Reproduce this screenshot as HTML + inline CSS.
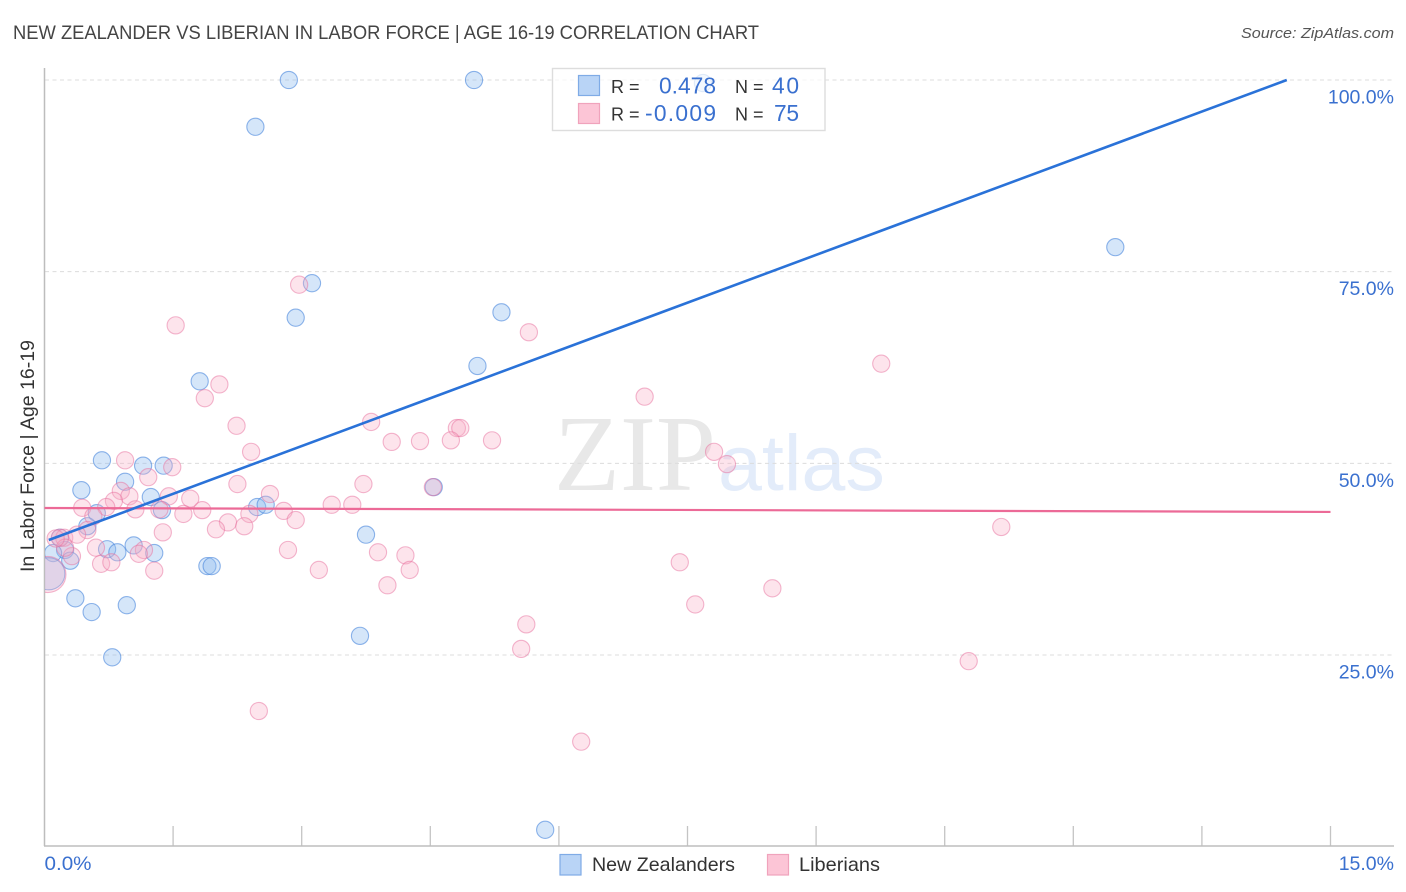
<!DOCTYPE html>
<html lang="en">
<head>
<meta charset="utf-8">
<title>New Zealander vs Liberian in Labor Force | Age 16-19 Correlation Chart</title>
<style>
  html, body { margin: 0; padding: 0; background: #fff; }
  svg { display: block; font-family: "Liberation Sans", sans-serif; }
</style>
</head>
<body>
<svg id="chart" xmlns="http://www.w3.org/2000/svg" width="1406" height="892" viewBox="0 0 1406 892">
  <defs>
    <clipPath id="plot-clip"><rect x="45" y="60" width="1355" height="786"></rect></clipPath>
  </defs>
  <rect x="0" y="0" width="1406" height="892" fill="#ffffff"></rect>

  <text x="13" y="39" font-size="19" fill="#444444" textLength="746" lengthAdjust="spacingAndGlyphs">NEW ZEALANDER VS LIBERIAN IN LABOR FORCE | AGE 16-19 CORRELATION CHART</text>
  <text x="1394" y="38" font-size="15" font-style="italic" fill="#555555" text-anchor="end" textLength="153" lengthAdjust="spacingAndGlyphs">Source: ZipAtlas.com</text>

  <g>
    <text x="554" y="490" font-family="'Liberation Serif', serif" font-size="108" fill="#e8e8e8">ZIP</text>
    <text x="718" y="490" font-size="79" fill="#e3ecfa">atlas</text>
  </g>

  <g id="grid"></g>
  <g id="x-ticks"></g>
  <line x1="44.5" y1="68" x2="44.5" y2="846" stroke="#bdbdbd" stroke-width="1.5"></line>
  <line x1="44" y1="846" x2="1394" y2="846" stroke="#bdbdbd" stroke-width="1.5"></line>

  <g id="marks-blue" clip-path="url(#plot-clip)"></g>
  <g id="marks-pink" clip-path="url(#plot-clip)"></g>
  <line id="trend-pink" stroke="#ec6a97" stroke-width="2.2"></line>
  <line id="trend-blue" stroke="#2a72d8" stroke-width="2.6"></line>

  <g id="y-labels"></g>
  <g id="x-labels"></g>

  <text transform="translate(34 456) rotate(-90)" font-size="19" fill="#333333" text-anchor="middle" textLength="232" lengthAdjust="spacingAndGlyphs">In Labor Force | Age 16-19</text>

  <g>
    <rect x="552.5" y="68.5" width="272.5" height="62" fill="#ffffff" fill-opacity="0.72" stroke="#dddddd" stroke-width="1.4"></rect>
    <rect x="578.5" y="75.5" width="21" height="20" fill="#b9d4f6" stroke="#7fabe6" stroke-width="1.2"></rect>
    <rect x="578.5" y="103.5" width="21" height="20" fill="#fcc5d6" stroke="#f0a3bc" stroke-width="1.2"></rect>
    <text x="611" y="93" font-size="18" fill="#333333">R =</text>
    <text x="659" y="93.500" font-size="22.800" fill="#3a70cf" textLength="57" lengthAdjust="spacing">0.478</text>
    <text x="735" y="93" font-size="18" fill="#333333">N =</text>
    <text x="772" y="93.500" font-size="22.800" fill="#3a70cf" textLength="27" lengthAdjust="spacing">40</text>
    <text x="611" y="120.500" font-size="18" fill="#333333">R =</text>
    <text x="645" y="121" font-size="22.800" fill="#3a70cf" textLength="71" lengthAdjust="spacing">-0.009</text>
    <text x="735" y="120.500" font-size="18" fill="#333333">N =</text>
    <text x="774" y="121" font-size="22.800" fill="#3a70cf" textLength="25" lengthAdjust="spacing">75</text>
  </g>

  <g>
    <g>
      <rect x="560" y="854.500" width="21" height="20.500" fill="#b9d4f6" stroke="#7fabe6" stroke-width="1.2"></rect>
      <text x="592" y="871" font-size="19.500" fill="#333333" textLength="143" lengthAdjust="spacingAndGlyphs">New Zealanders</text>
    </g>
    <g>
      <rect x="767.500" y="854.500" width="21" height="20.500" fill="#fcc5d6" stroke="#f0a3bc" stroke-width="1.2"></rect>
      <text x="799" y="871" font-size="19.500" fill="#333333" textLength="81" lengthAdjust="spacingAndGlyphs">Liberians</text>
    </g>
  </g>
</svg>

<script>
// --- Chart data (percent values) ---
const yTickValues = [100, 75, 50, 25];
const yTickLabels = ["100.0%", "75.0%", "50.0%", "25.0%"];
const xTickValues = [0, 1.5, 3, 4.5, 6, 7.5, 9, 10.5, 12, 13.5, 15];
const xEndLabels = ["0.0%", "15.0%"];

const blueX = [2.85, 5.01, 7.68, 2.46, 12.49, 3.12, 2.93, 5.33, 5.05, 1.81,
               0.67, 1.15, 1.39, 0.43, 0.94, 1.24, 0.61, 1.37, 2.48, 2.58,
               4.54, 0.50, 3.75, 0.18, 0.24, 0.73, 0.85, 1.04, 1.28, 0.30,
               1.90, 1.95, 0.36, 0.55, 0.96, 3.68, 0.79, 5.84, 0.10, 0.05];
const blueY = [100, 100, 99.6, 93.9, 78.2, 73.5, 69.0, 69.7, 62.7, 60.7,
               50.4, 49.7, 49.7, 46.5, 47.6, 45.6, 43.5, 43.9, 44.3, 44.6,
               46.9, 41.8, 40.7, 40.3, 38.7, 38.8, 38.4, 39.3, 38.3, 37.3,
               36.6, 36.6, 32.4, 30.6, 31.5, 27.5, 24.7, 2.2, 38.3, 35.6];
const blueLastWeight = 3.5;

const pinkX = [2.97, 1.53, 5.65, 9.76, 2.04, 1.87, 7.00, 2.24, 3.81, 4.81,
               4.85, 4.05, 4.38, 4.74, 5.22, 2.41, 0.94, 1.49, 7.81, 7.96,
               1.21, 2.25, 3.72, 0.89, 0.99, 0.81, 1.45, 2.63, 1.70, 4.53,
               0.44, 0.72, 1.06, 1.34, 1.84, 1.62, 0.57, 2.39, 2.79, 3.35,
               3.59, 2.93, 2.14, 2.00, 2.33, 11.16, 0.50, 1.38, 0.18, 0.23,
               0.38, 0.60, 2.84, 3.89, 4.21, 1.16, 1.10, 0.32, 0.24, 0.66,
               0.78, 1.28, 3.20, 4.26, 7.41, 4.00, 8.49, 7.59, 5.62, 5.56,
               10.78, 2.50, 6.26, 0.13, 0.04];
const pinkY = [73.3, 68.0, 67.1, 63.0, 60.3, 58.5, 58.7, 54.9, 55.4, 54.6,
               54.6, 52.8, 52.9, 53.0, 53.0, 51.5, 50.4, 49.5, 51.5, 49.9,
               48.2, 47.3, 47.3, 46.4, 45.7, 45.1, 45.7, 46.0, 45.4, 46.9,
               44.2, 44.3, 44.0, 44.0, 43.9, 43.4, 43.1, 43.4, 43.8, 44.6,
               44.6, 42.6, 42.3, 41.4, 41.8, 41.7, 41.3, 41.0, 40.3, 40.3,
               40.7, 39.0, 38.7, 38.4, 38.0, 38.7, 38.2, 37.9, 39.0, 36.9,
               37.1, 36.0, 36.1, 36.1, 37.1, 34.1, 33.7, 31.6, 29.0, 25.8,
               24.2, 17.7, 13.7, 40.2, 35.5];
const pinkLastWeight = 4.4;

const blueTrendX = [0.05, 14.49];
const blueTrendY = [40.0, 100];
const pinkTrendX = [0, 15];
const pinkTrendY = [44.18, 43.66];

// --- Axis functions ---
const svgNS = "http://www.w3.org/2000/svg";
function xScale(v) { return 44.5 + v * (1286 / 15); }
function yScale(v) { return 80 + (100 - v) * 7.667; }
function rScale(w) { return 8.6 * Math.sqrt(w); }

const gridLayer = document.getElementById("grid");
const yLabelLayer = document.getElementById("y-labels");
yTickValues.forEach(function (v, i) {
  const line = document.createElementNS(svgNS, "line");
  line.setAttribute("x1", 45);
  line.setAttribute("x2", 1394);
  line.setAttribute("y1", yScale(v));
  line.setAttribute("y2", yScale(v));
  line.setAttribute("stroke", "#dcdcdc");
  line.setAttribute("stroke-width", "1");
  line.setAttribute("stroke-dasharray", "4 3.500");
  
  
  gridLayer.appendChild(line);

  const label = document.createElementNS(svgNS, "text");
  label.setAttribute("x", 1394);
  label.setAttribute("y", yScale(v) + 23.5);
  label.setAttribute("text-anchor", "end");
  label.setAttribute("font-size", "19.500");
  label.setAttribute("fill", "#3a70cf");
  label.textContent = yTickLabels[i];
  
  
  yLabelLayer.appendChild(label);
});

const xTickLayer = document.getElementById("x-ticks");
xTickValues.forEach(function (v, i) {
  if (i === 0) { return; }
  const tick = document.createElementNS(svgNS, "line");
  tick.setAttribute("x1", xScale(v));
  tick.setAttribute("x2", xScale(v));
  tick.setAttribute("y1", 826);
  tick.setAttribute("y2", 846);
  tick.setAttribute("stroke", "#c4c4c4");
  tick.setAttribute("stroke-width", "1.300");
  
  
  xTickLayer.appendChild(tick);
});

const xLabelLayer = document.getElementById("x-labels");
const xLabelLeft = document.createElementNS(svgNS, "text");
xLabelLeft.setAttribute("x", xScale(xTickValues[0]));
xLabelLeft.setAttribute("y", 870);
xLabelLeft.setAttribute("font-size", "19.500");
xLabelLeft.setAttribute("fill", "#3a70cf");
xLabelLeft.setAttribute("textLength", "47");
xLabelLeft.setAttribute("lengthAdjust", "spacingAndGlyphs");
xLabelLeft.textContent = xEndLabels[0];


xLabelLayer.appendChild(xLabelLeft);

const xLabelRight = document.createElementNS(svgNS, "text");
xLabelRight.setAttribute("x", 1394);
xLabelRight.setAttribute("y", 870);
xLabelRight.setAttribute("font-size", "19.500");
xLabelRight.setAttribute("text-anchor", "end");
xLabelRight.setAttribute("fill", "#3a70cf");
xLabelRight.textContent = xEndLabels[1];


xLabelLayer.appendChild(xLabelRight);

// --- Series marks ---
const blueLayer = document.getElementById("marks-blue");
blueX.forEach(function (v, i) {
  const weight = i === blueX.length - 1 ? blueLastWeight : 1;
  const dot = document.createElementNS(svgNS, "circle");
  dot.setAttribute("cx", xScale(v));
  dot.setAttribute("cy", yScale(blueY[i]));
  dot.setAttribute("r", rScale(weight));
  dot.setAttribute("fill", "rgba(145,188,240,0.38)");
  dot.setAttribute("stroke", "rgba(65,130,218,0.58)");
  dot.setAttribute("stroke-width", "1.100");
  
  
  blueLayer.appendChild(dot);
});

const pinkLayer = document.getElementById("marks-pink");
pinkX.forEach(function (v, i) {
  const weight = i === pinkX.length - 1 ? pinkLastWeight : 1;
  const dot = document.createElementNS(svgNS, "circle");
  dot.setAttribute("cx", xScale(v));
  dot.setAttribute("cy", yScale(pinkY[i]));
  dot.setAttribute("r", rScale(weight));
  dot.setAttribute("fill", "rgba(248,172,196,0.33)");
  dot.setAttribute("stroke", "rgba(232,112,158,0.5)");
  dot.setAttribute("stroke-width", "1.100");
  
  
  pinkLayer.appendChild(dot);
});

// --- Trend lines ---
const trendBlue = document.getElementById("trend-blue");
trendBlue.setAttribute("x1", xScale(blueTrendX[0]));
trendBlue.setAttribute("y1", yScale(blueTrendY[0]));
trendBlue.setAttribute("x2", xScale(blueTrendX[1]));
trendBlue.setAttribute("y2", yScale(blueTrendY[1]));

const trendPink = document.getElementById("trend-pink");
trendPink.setAttribute("x1", xScale(pinkTrendX[0]));
trendPink.setAttribute("y1", yScale(pinkTrendY[0]));
trendPink.setAttribute("x2", xScale(pinkTrendX[1]));
trendPink.setAttribute("y2", yScale(pinkTrendY[1]));
</script>
</body>
</html>
